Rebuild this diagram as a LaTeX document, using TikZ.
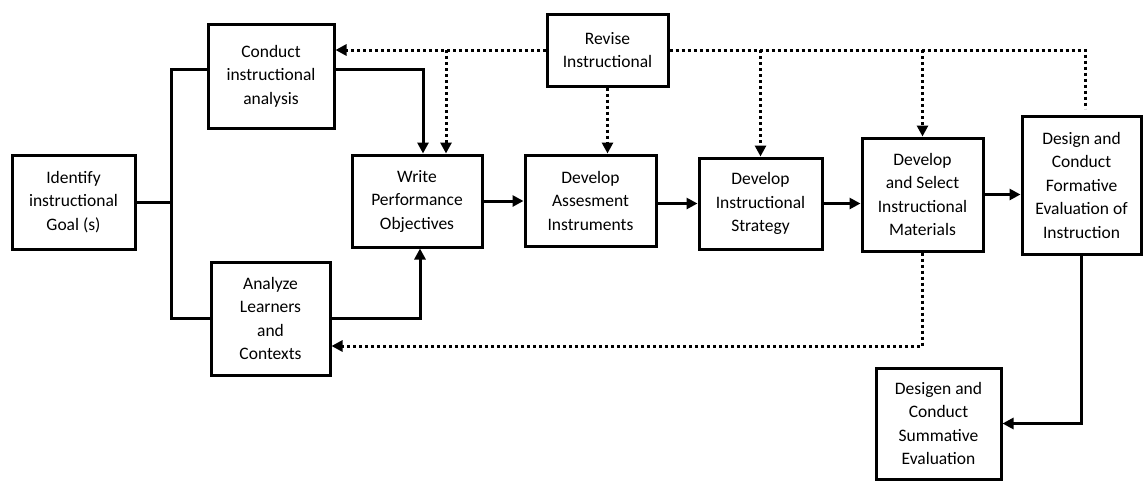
\documentclass[tikz,border=0pt]{standalone}
\usepackage{fontspec}
\setmainfont{Carlito}
\usetikzlibrary{arrows.meta,positioning}

\begin{document}
\begin{tikzpicture}[
      x=1pt,y=-1pt,
      box/.style={draw,line width=3pt,align=center,inner sep=2pt,
        font=\fontsize{17.5}{23.5}\selectfont},
      link/.style={line width=3pt},
      arr/.style={link,-{Triangle[length=11pt,width=11pt]}},
      dots/.style={line width=3pt,dash pattern=on 3pt off 3pt},
      dotarr/.style={dots,-{Triangle[length=11pt,width=11pt]}}
    ]
      \useasboundingbox (0,0) rectangle (1143,482);

      \node[box,minimum width=123pt,minimum height=94pt](goal) at (73.5,202)
        {Identify\\instructional\\Goal (s)};
      \node[box,minimum width=126pt,minimum height=104pt](analysis) at (271,76)
        {Conduct\\instructional\\analysis};
      \node[box,minimum width=119pt,minimum height=113pt](learners) at (270.5,318.5)
        {Analyze\\Learners\\and\\Contexts};
      \node[box,minimum width=130pt,minimum height=92pt](objectives) at (417,201)
        {Write\\Performance\\Objectives};
      \node[box,minimum width=131pt,minimum height=91pt](assess) at (590.5,200.5)
        {Develop\\Assesment\\Instruments};
      \node[box,minimum width=123pt,minimum height=91pt](strategy) at (760.5,203.5)
        {Develop\\Instructional\\Strategy};
      \node[box,minimum width=121pt,minimum height=113pt](materials) at (922.5,194.5)
        {Develop\\and Select\\Instructional\\Materials};
      \node[box,minimum width=119pt,minimum height=138pt](formative) at (1081.5,185)
        {Design and\\Conduct\\Formative\\Evaluation of\\Instruction};
      \node[box,minimum width=125pt,minimum height=111pt](summative) at (938.5,423.5)
        {Desigen and\\Conduct\\Summative\\Evaluation};
      \node[box,minimum width=121pt,minimum height=72pt](revise) at (607.5,50)
        {Revise\\Instructional};

      \coordinate (split) at (171,202);

      \draw[link](goal.east)--(split);
      \draw[link]([yshift=7pt]analysis.west)-|(split)|-(learners.west);
      \draw[arr]([yshift=7pt]analysis.east)-|([xshift=6pt]objectives.north);
      \draw[arr](learners.east)-|([xshift=3pt]objectives.south);

      \draw[arr](objectives.east)--(objectives.east-|assess.west);
      \draw[arr](assess.east|-strategy.west)--(strategy.west);
      \draw[arr](strategy.east)--(strategy.east-|materials.west);
      \draw[arr](materials.east)--(materials.east-|formative.west);
      \draw[arr](formative.south)|-(summative.east);

      \draw[dotarr](revise.west)--(revise.west-|analysis.east);
      \draw[dotarr]([xshift=29pt]objectives.north|-revise.west)
        --([xshift=29pt]objectives.north);
      \draw[dotarr](revise.south)--(revise.south|-assess.north);
      \draw[dots](revise.east)-|([xshift=3.5pt,yshift=6pt]formative.north);
      \draw[dotarr](revise.east-|strategy.north)--(strategy.north);
      \draw[dotarr](revise.east-|materials.north)--(materials.north);
      \draw[dotarr](materials.south)|-([yshift=-27.5pt]learners.east);
    \end{tikzpicture}
\end{document}
